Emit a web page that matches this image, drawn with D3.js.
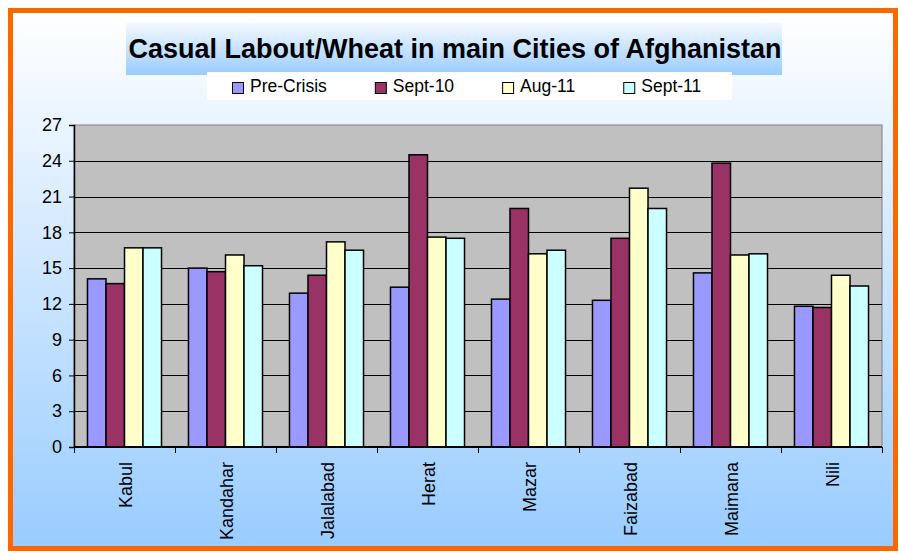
<!DOCTYPE html>
<html>
<head>
  <style>
    body { margin: 0; background: white; }
    svg text { font-family: "Liberation Sans", Arial, sans-serif; }
  </style>
</head>
<body>
  <div id="chart"></div>
  <script src="https://cdnjs.cloudflare.com/ajax/libs/d3/7.8.5/d3.min.js"></script>
  <script>
    // data
    const cities = ["Kabul", "Kandahar", "Jalalabad", "Herat", "Mazar", "Faizabad", "Maimana", "Nili"];
    const seriesNames = ["Pre-Crisis", "Sept-10", "Aug-11", "Sept-11"];
    const preCrisis = [14.1, 15.0, 12.9, 13.4, 12.4, 12.3, 14.6, 11.8];
    const sept10 = [13.7, 14.7, 14.4, 24.5, 20.0, 17.5, 23.8, 11.7];
    const aug11 = [16.7, 16.1, 17.2, 17.6, 16.2, 21.7, 16.1, 14.4];
    const sept11 = [16.7, 15.2, 16.5, 17.5, 16.5, 20.0, 16.2, 13.5];
    const yTicks = [0, 3, 6, 9, 12, 15, 18, 21, 24, 27];
    const colors = ["#9999ff", "#993366", "#ffffcc", "#ccffff"];

    const values = [preCrisis, sept10, aug11, sept11];

    const width = 899, height = 553;
    const plot = { left: 74, right: 882, top: 125, bottom: 447 };

    const svg = d3.select("#chart").append("svg")
      .attr("width", width)
      .attr("height", height);

    const defs = svg.append("defs");
    const bgGrad = defs.append("linearGradient").attr("id", "bg")
      .attr("x1", 0).attr("y1", 0).attr("x2", 0).attr("y2", 1);
    bgGrad.append("stop").attr("offset", "0%").attr("stop-color", "#ffffff");
    bgGrad.append("stop").attr("offset", "100%").attr("stop-color", "#99ccff");

    const titleGrad = defs.append("linearGradient").attr("id", "titlebg")
      .attr("x1", 0).attr("y1", 0).attr("x2", 0).attr("y2", 1);
    titleGrad.append("stop").attr("offset", "0%").attr("stop-color", "#f4f8ff");
    titleGrad.append("stop").attr("offset", "100%").attr("stop-color", "#99ccff");

    // frame
    svg.append("rect")
      .attr("x", 10.5).attr("y", 10.5)
      .attr("width", 885).attr("height", 538)
      .attr("fill", "url(#bg)")
      .attr("stroke", "#ff6600")
      .attr("stroke-width", 5);

    // title
    svg.append("rect")
      .attr("x", 126).attr("y", 23)
      .attr("width", 656).attr("height", 52)
      .attr("fill", "url(#titlebg)");
    svg.append("text")
      .attr("x", 455).attr("y", 58)
      .attr("text-anchor", "middle")
      .attr("font-size", 27)
      .attr("font-weight", "bold")
      .text("Casual Labout/Wheat in main Cities of Afghanistan");

    // legend
    svg.append("rect")
      .attr("x", 207).attr("y", 72)
      .attr("width", 525).attr("height", 28)
      .attr("fill", "white");
    let lx = 232;
    seriesNames.forEach((name, i) => {
      svg.append("rect")
        .attr("x", lx + 0.5).attr("y", 82.5)
        .attr("width", 11).attr("height", 11)
        .attr("fill", colors[i])
        .attr("stroke", "black");
      const t = svg.append("text")
        .attr("x", lx + 18).attr("y", 92)
        .attr("font-size", 17.5)
        .text(name);
      lx += 18 + t.node().getComputedTextLength() + 48;
    });

    // scales
    const x = d3.scaleBand()
      .domain(cities)
      .range([plot.left, plot.right])
      .paddingInner(0.267)
      .paddingOuter(0.1335);
    const xs = d3.scaleBand()
      .domain(seriesNames)
      .range([0, x.bandwidth()]);
    const y = d3.scaleLinear()
      .domain([0, 27])
      .range([plot.bottom, plot.top]);

    // plot area
    svg.append("rect")
      .attr("x", plot.left).attr("y", plot.top)
      .attr("width", plot.right - plot.left)
      .attr("height", plot.bottom - plot.top)
      .attr("fill", "#c0c0c0")
      .attr("stroke", "#808080");

    // gridlines
    svg.append("g").selectAll("line")
      .data(yTicks.filter(d => d > 0 && d < 27))
      .join("line")
      .attr("x1", plot.left).attr("x2", plot.right)
      .attr("y1", d => Math.round(y(d)) + 0.5)
      .attr("y2", d => Math.round(y(d)) + 0.5)
      .attr("stroke", "black");

    // bars
    const groups = svg.append("g").selectAll("g")
      .data(cities)
      .join("g")
      .attr("transform", d => `translate(${x(d)},0)`);

    groups.selectAll("rect")
      .data((c, ci) => seriesNames.map((s, si) => ({ s, si, v: values[si][ci] })))
      .join("rect")
      .attr("x", d => xs(d.s))
      .attr("y", d => y(d.v))
      .attr("width", xs.bandwidth())
      .attr("height", d => y(0) - y(d.v))
      .attr("fill", d => colors[d.si])
      .attr("stroke", "black")
      .attr("stroke-width", 1.5);

    // y axis
    const yAxis = svg.append("g")
      .attr("transform", `translate(${plot.left},0)`)
      .call(d3.axisLeft(y).tickValues(yTicks).tickSize(5).tickPadding(7));
    yAxis.select(".domain").attr("stroke-width", 1.5);
    yAxis.selectAll("text").attr("font-size", 18).attr("font-family", "Liberation Sans, Arial, sans-serif").attr("fill", "black");

    // x axis with ticks at category boundaries
    const xAxis = svg.append("g")
      .attr("transform", `translate(0,${plot.bottom})`);
    xAxis.append("line")
      .attr("x1", plot.left).attr("x2", plot.right)
      .attr("stroke", "black").attr("stroke-width", 2);
    const bounds = d3.range(cities.length + 1).map(i => plot.left + i * x.step());
    xAxis.selectAll(".tick-b")
      .data(bounds)
      .join("line")
      .attr("class", "tick-b")
      .attr("x1", d => Math.round(d) + 0.5).attr("x2", d => Math.round(d) + 0.5)
      .attr("y1", 0).attr("y2", 6)
      .attr("stroke", "black");
    xAxis.selectAll("text")
      .data(cities)
      .join("text")
      .attr("transform", d => `translate(${x(d) + x.bandwidth() / 2 + 7},15) rotate(-90)`)
      .attr("text-anchor", "end")
      .attr("font-size", 18)
      .text(d => d);
  </script>
</body>
</html>
